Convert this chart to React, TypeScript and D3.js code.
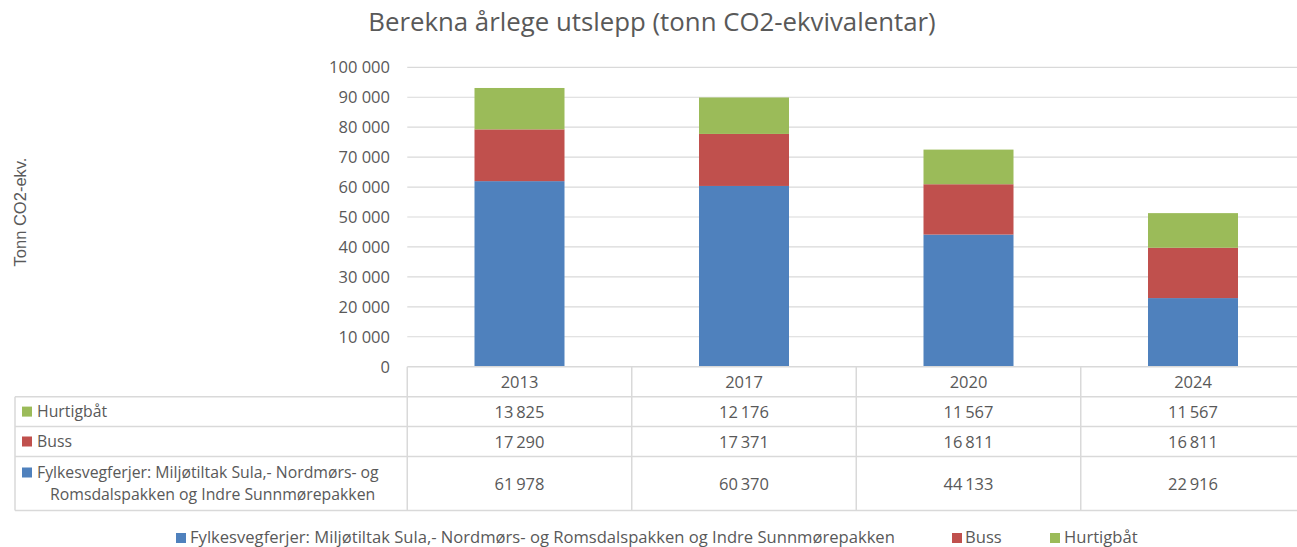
import React from "react";
import * as d3 from "d3";

const categories = ["2013", "2017", "2020", "2024"];
const ferjer = [61978, 60370, 44133, 22916];
const buss = [17290, 17371, 16811, 16811];
const hurtigbat = [13825, 12176, 11567, 11567];
const yTicks = [0, 10000, 20000, 30000, 40000, 50000, 60000, 70000, 80000, 90000, 100000];

const seriesNames = [
  "Fylkesvegferjer: Miljøtiltak Sula,- Nordmørs- og Romsdalspakken og Indre Sunnmørepakken",
  "Buss",
  "Hurtigbåt",
];
const colors = ["#4f81bd", "#c0504d", "#9bbb59"];

const W = 1297;
const H = 547;
const FONT = "'Open Sans', Lato, sans-serif";
const TXT = "#595959";
const GRID = "#d9d9d9";

const fmt = (v: number) => {
  const s = String(Math.round(v));
  return s.replace(/\B(?=(\d{3})+(?!\d))/g, "\u2009");
};
const fmtTick = (v: number) => {
  const s = String(Math.round(v));
  return s.replace(/\B(?=(\d{3})+(?!\d))/g, " ");
};

export default function App() {
  const plotLeft = 407.25;
  const band = 224.5;
  const x = d3
    .scaleBand<string>()
    .domain(categories)
    .range([plotLeft, plotLeft + band * categories.length])
    .paddingInner(0)
    .paddingOuter(0);
  const y = d3.scaleLinear().domain([0, 100000]).range([366.7, 67.3]);
  const barW = 90;

  const stackData = categories.map((c, i) => ({
    cat: c,
    s0: ferjer[i],
    s1: buss[i],
    s2: hurtigbat[i],
  }));
  const stack = d3.stack<any>().keys(["s0", "s1", "s2"]);
  const layers = stack(stackData);

  const tableLeft = 15;
  const rows = [
    { top: 366.7, bottom: 396.7 },
    { top: 396.7, bottom: 426.5 },
    { top: 426.5, bottom: 456.5 },
    { top: 456.5, bottom: 510.5 },
  ];
  const rowSeries = [
    { idx: 2, vals: hurtigbat },
    { idx: 1, vals: buss },
    { idx: 0, vals: ferjer },
  ];
  const tableRight = W;

  return (
    <div
      style={{
        position: "fixed",
        left: 0,
        top: 0,
        width: W,
        height: H,
        overflow: "hidden",
        background: "#fff",
      }}
    >
      <svg width={W} height={H} style={{ display: "block" }} fontFamily={FONT}>
        <rect x={0} y={0} width={W} height={H} fill="#fff" />
        <text x={652} y={31} textAnchor="middle" fontSize={25.8} fill={TXT}>
          Berekna årlege utslepp (tonn CO2-ekvivalentar)
        </text>
        <text
          transform={`translate(26,212) rotate(-90)`}
          textAnchor="middle"
          fontSize={16.5}
          fontFamily="'Liberation Sans', Arial, sans-serif"
          fill={TXT}
        >
          Tonn CO2-ekv.
        </text>
        {yTicks.map((t) => (
          <g key={t}>
            {t > 0 && (
              <line x1={plotLeft} x2={W} y1={y(t)} y2={y(t)} stroke={GRID} strokeWidth={1.2} />
            )}
            <text x={390} y={y(t) + 6} textAnchor="end" fontSize={16.5} fill={TXT}>
              {fmtTick(t)}
            </text>
          </g>
        ))}
        {layers.map((layer, li) => (
          <g key={li} fill={colors[li]}>
            {layer.map((d, i) => (
              <rect
                key={i}
                x={(x(categories[i]) as number) + x.bandwidth() / 2 - barW / 2}
                width={barW}
                y={y(d[1])}
                height={y(d[0]) - y(d[1])}
              />
            ))}
          </g>
        ))}
        {/* table */}
        <g stroke={GRID} strokeWidth={1.5} fill="none">
          <line x1={plotLeft} x2={tableRight} y1={rows[0].top} y2={rows[0].top} />
          {rows.slice(1).map((r, i) => (
            <line key={i} x1={tableLeft} x2={tableRight} y1={r.top} y2={r.top} />
          ))}
          <line x1={tableLeft} x2={tableRight} y1={rows[3].bottom} y2={rows[3].bottom} />
          <line x1={tableLeft} x2={tableLeft} y1={rows[1].top} y2={rows[3].bottom} />
          {categories.map((c) => (
            <line
              key={c}
              x1={x(c) as number}
              x2={x(c) as number}
              y1={rows[0].top}
              y2={rows[3].bottom}
            />
          ))}
        </g>
        {categories.map((c) => (
          <text
            key={c}
            x={(x(c) as number) + x.bandwidth() / 2}
            y={(rows[0].top + rows[0].bottom) / 2 + 6}
            textAnchor="middle"
            fontSize={16.5}
            fill={TXT}
          >
            {c}
          </text>
        ))}
        {rowSeries.map((rs, ri) => {
          const r = rows[ri + 1];
          const cy = (r.top + r.bottom) / 2;
          const isLong = rs.idx === 0;
          return (
            <g key={ri}>
              <rect x={22} y={isLong ? cy - 16 : cy - 5} width={10} height={10} fill={colors[rs.idx]} />
              {isLong ? (
                <>
                  <text x={37} y={cy - 5.5} fontSize={15.8} fill={TXT}>
                    Fylkesvegferjer: Miljøtiltak Sula,- Nordmørs- og
                  </text>
                  <text x={50} y={cy + 16} fontSize={15.8} fill={TXT}>
                    Romsdalspakken og Indre Sunnmørepakken
                  </text>
                </>
              ) : (
                <text x={37} y={cy + 5.5} fontSize={15.8} fill={TXT}>
                  {seriesNames[rs.idx]}
                </text>
              )}
              {categories.map((c, ci) => (
                <text
                  key={c}
                  x={(x(c) as number) + x.bandwidth() / 2}
                  y={cy + 6}
                  textAnchor="middle"
                  fontSize={16.5}
                  fill={TXT}
                >
                  {fmt(rs.vals[ci])}
                </text>
              ))}
            </g>
          );
        })}
        {/* legend */}
        {[
          { idx: 0, sx: 176, tx: 190 },
          { idx: 1, sx: 952, tx: 965 },
          { idx: 2, sx: 1050, tx: 1064 },
        ].map((l) => (
          <g key={l.idx}>
            <rect x={l.sx} y={533} width={10} height={10} fill={colors[l.idx]} />
            <text x={l.tx} y={543} fontSize={16.6} fill={TXT}>
              {seriesNames[l.idx]}
            </text>
          </g>
        ))}
      </svg>
    </div>
  );
}
